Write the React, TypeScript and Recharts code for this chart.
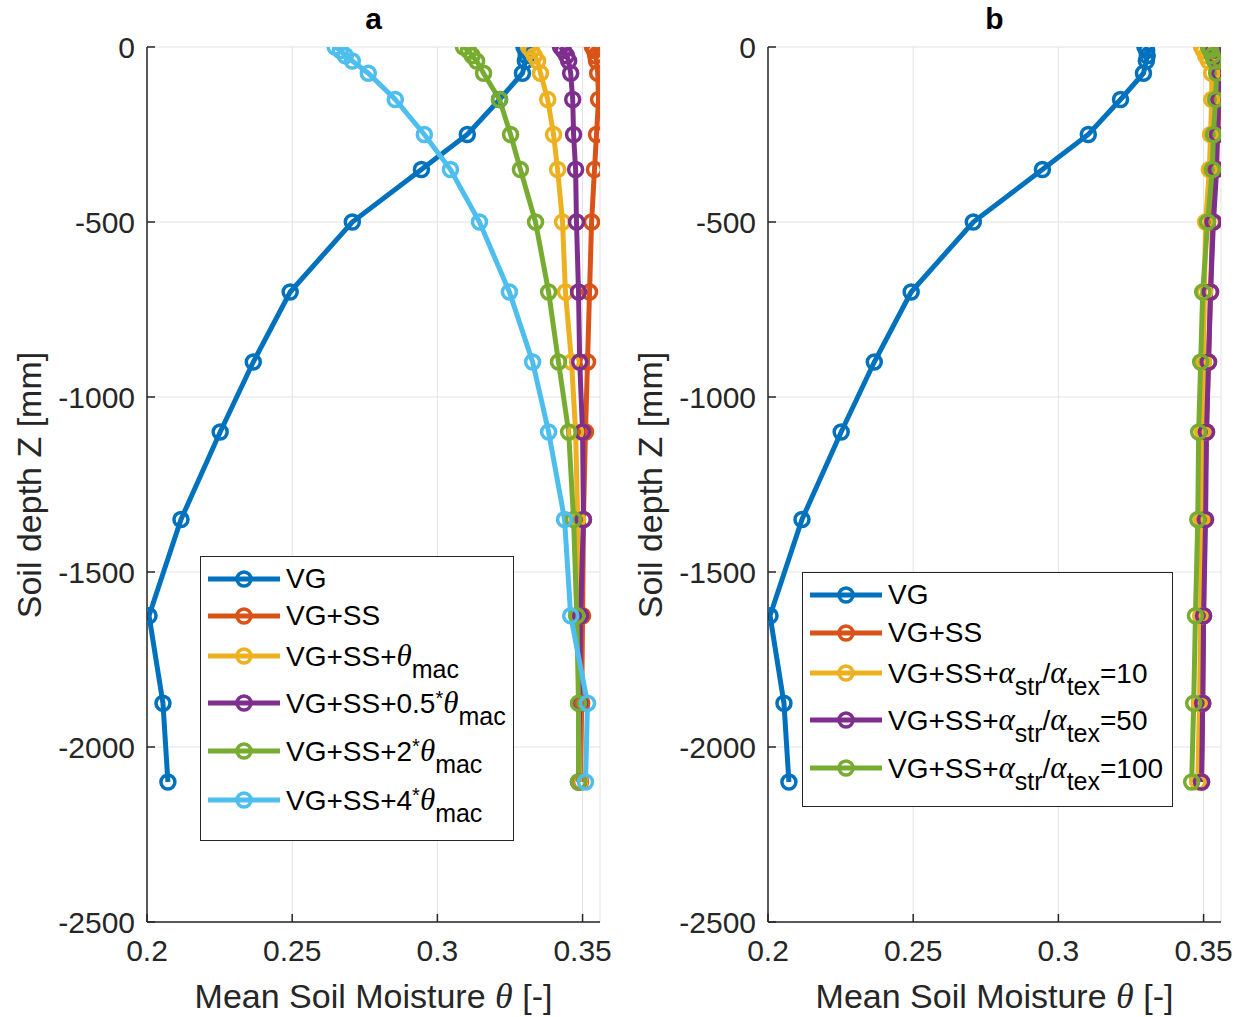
import React from "react";
import { CartesianGrid, Line, LineChart, XAxis, YAxis } from "recharts";

// soil depth of every node [mm]
const DEPTHS = [0, -10, -25, -40, -75, -150, -250, -350, -500, -700, -900, -1100, -1350, -1625, -1875, -2100];

const X_TICKS = [0.2, 0.25, 0.3, 0.35];
const Y_TICKS = [0, -500, -1000, -1500, -2000, -2500];

// mean soil moisture per node, panel a
const VG = [0.3298, 0.3304, 0.3306, 0.3303, 0.3293, 0.3214, 0.3103, 0.2945, 0.2707, 0.2493, 0.2366, 0.2252, 0.2117, 0.2007, 0.2055, 0.2072];
const VG_SS = [0.3534, 0.3541, 0.3545, 0.3548, 0.3552, 0.3555, 0.3548, 0.3541, 0.3531, 0.3524, 0.3517, 0.351, 0.3503, 0.35, 0.3497, 0.3493];
const MAC_1 = [0.3314, 0.3324, 0.3334, 0.3345, 0.3355, 0.338, 0.34, 0.3414, 0.3431, 0.3441, 0.3462, 0.3476, 0.3483, 0.3486, 0.349, 0.349];
const MAC_05 = [0.3424, 0.3434, 0.3445, 0.3452, 0.3459, 0.3466, 0.3469, 0.3476, 0.3479, 0.3486, 0.349, 0.35, 0.3503, 0.3493, 0.349, 0.3486];
const MAC_2 = [0.309, 0.3107, 0.312, 0.3135, 0.3159, 0.3214, 0.3252, 0.3286, 0.3338, 0.3383, 0.3417, 0.3452, 0.3469, 0.348, 0.3486, 0.3486];
const MAC_4 = [0.2648, 0.2666, 0.2683, 0.2707, 0.2762, 0.2855, 0.2955, 0.3045, 0.3145, 0.3248, 0.3328, 0.3383, 0.3438, 0.3459, 0.3517, 0.351];

// panel b
const ALPHA_10 = [0.3493, 0.35, 0.3507, 0.3517, 0.3528, 0.3528, 0.3524, 0.352, 0.3507, 0.3503, 0.35, 0.3497, 0.3493, 0.349, 0.3486, 0.348];
const ALPHA_50 = [0.3524, 0.353, 0.3538, 0.3545, 0.3555, 0.3552, 0.3548, 0.3545, 0.3534, 0.3524, 0.3517, 0.351, 0.3507, 0.35, 0.3497, 0.3493];
const ALPHA_100 = [0.3517, 0.3524, 0.353, 0.3538, 0.3545, 0.3541, 0.3534, 0.353, 0.3514, 0.3497, 0.349, 0.3483, 0.348, 0.3472, 0.3466, 0.3459];

const C = {
  blue: "#0072BD",
  orange: "#D95319",
  yellow: "#EDB120",
  purple: "#7E2F8E",
  green: "#77AC30",
  cyan: "#4DBEEE",
};

const INK = "#262626";
const SANS = "'Liberation Sans', Arial, sans-serif";
const SERIF = "'Liberation Serif', 'Times New Roman', serif";

const Theta = () => <i style={{ fontFamily: SERIF, fontSize: 31 }}>θ</i>;
const Alpha = () => <i style={{ fontFamily: SERIF, fontSize: 31 }}>α</i>;
const Sub = ({ children }: { children: React.ReactNode }) => (
  <span style={{ fontSize: 25, position: "relative", top: 12 }}>{children}</span>
);
const Star = () => <span style={{ fontSize: 20, position: "relative", top: -8 }}>*</span>;

interface Series {
  key: string;
  values: number[];
  color: string;
  label: React.ReactNode;
}

const SERIES_A: Series[] = [
  { key: "vg", values: VG, color: C.blue, label: "VG" },
  { key: "vgss", values: VG_SS, color: C.orange, label: "VG+SS" },
  { key: "m1", values: MAC_1, color: C.yellow, label: <>VG+SS+<Theta /><Sub>mac</Sub></> },
  { key: "m05", values: MAC_05, color: C.purple, label: <>VG+SS+0.5<Star /><Theta /><Sub>mac</Sub></> },
  { key: "m2", values: MAC_2, color: C.green, label: <>VG+SS+2<Star /><Theta /><Sub>mac</Sub></> },
  { key: "m4", values: MAC_4, color: C.cyan, label: <>VG+SS+4<Star /><Theta /><Sub>mac</Sub></> },
];

const ratio = (n: string) => (
  <>VG+SS+<Alpha /><Sub>str</Sub>/<Alpha /><Sub>tex</Sub>={n}</>
);

const SERIES_B: Series[] = [
  { key: "vg", values: VG, color: C.blue, label: "VG" },
  { key: "vgss", values: VG_SS, color: C.orange, label: "VG+SS" },
  { key: "a10", values: ALPHA_10, color: C.yellow, label: ratio("10") },
  { key: "a50", values: ALPHA_50, color: C.purple, label: ratio("50") },
  { key: "a100", values: ALPHA_100, color: C.green, label: ratio("100") },
];

const toPoints = (values: number[]) => DEPTHS.map((z, i) => ({ theta: values[i], z }));

const W = 625;
const H = 1017;

function LegendBox({ series, left, top, width, heights }: { series: Series[]; left: number; top: number; width: number; heights: number[] }) {
  return (
    <div
      style={{
        position: "absolute",
        left,
        top,
        width,
        boxSizing: "border-box",
        border: `1.5px solid ${INK}`,
        background: "#fff",
        padding: "6px 0 8px 7px",
        fontFamily: SANS,
        fontSize: 28,
        color: "#000",
      }}
    >
      {series.map((s, i) => (
        <div key={s.key} style={{ display: "flex", alignItems: "flex-start", height: heights[i], whiteSpace: "nowrap" }}>
          <svg width={74} height={32} style={{ flex: "none" }}>
            <line x1={0} x2={72} y1={16} y2={16} stroke={s.color} strokeWidth={5} />
            <circle cx={36} cy={16} r={7} fill="none" stroke={s.color} strokeWidth={3.5} />
          </svg>
          <span style={{ marginLeft: 4, lineHeight: "32px" }}>{s.label}</span>
        </div>
      ))}
    </div>
  );
}

function Panel({ title, series, left, legend }: { title: string; series: Series[]; left: number; legend: React.ReactNode }) {
  const tickStyle = { fill: INK, fontSize: 30, fontFamily: SANS };
  return (
    <div style={{ position: "absolute", left, top: 0, width: W, height: H }}>
      <LineChart width={W} height={H} margin={{ top: 47, right: 25, bottom: 0, left: 0 }}>
        <CartesianGrid stroke="#e3e3e3" strokeWidth={1} />
        <XAxis
          dataKey="theta"
          type="number"
          domain={[0.2, 0.356]}
          ticks={X_TICKS}
          allowDataOverflow
          height={95}
          tickSize={-8}
          tickMargin={26}
          axisLine={{ stroke: INK, strokeWidth: 1.5 }}
          tickLine={{ stroke: INK, strokeWidth: 1.5 }}
          tick={tickStyle}
        />
        <XAxis
          xAxisId="top"
          orientation="top"
          type="number"
          domain={[0.2, 0.356]}
          ticks={X_TICKS}
          allowDataOverflow
          height={0}
          tickSize={-8}
          tickFormatter={() => ""}
          axisLine={{ stroke: INK, strokeWidth: 1.5 }}
          tickLine={{ stroke: INK, strokeWidth: 1.5 }}
        />
        <YAxis
          dataKey="z"
          type="number"
          domain={[-2500, 0]}
          ticks={Y_TICKS}
          allowDataOverflow
          width={147}
          tickSize={-8}
          tickMargin={20}
          axisLine={{ stroke: INK, strokeWidth: 1.5 }}
          tickLine={{ stroke: INK, strokeWidth: 1.5 }}
          tick={tickStyle}
        />
        <YAxis
          yAxisId="right"
          orientation="right"
          type="number"
          domain={[-2500, 0]}
          ticks={Y_TICKS}
          allowDataOverflow
          width={0}
          tickSize={-8}
          tickFormatter={() => ""}
          axisLine={{ stroke: INK, strokeWidth: 1.5 }}
          tickLine={{ stroke: INK, strokeWidth: 1.5 }}
        />
        {series.map((s) => (
          <Line
            key={s.key}
            data={toPoints(s.values)}
            dataKey="z"
            type="linear"
            stroke={s.color}
            strokeWidth={5}
            dot={{ r: 7, fill: "none", stroke: s.color, strokeWidth: 3.5 }}
            activeDot={false}
            isAnimationActive={false}
          />
        ))}
      </LineChart>

      <div style={{ position: "absolute", left: 147, width: 453, top: 2, textAlign: "center", fontFamily: SANS, fontWeight: 700, fontSize: 30, lineHeight: "34px" }}>
        {title}
      </div>
      <div style={{ position: "absolute", left: 147, width: 453, top: 979, textAlign: "center", fontFamily: SANS, fontSize: 34, lineHeight: "34px", color: INK, whiteSpace: "nowrap" }}>
        Mean Soil Moisture <i style={{ fontFamily: SERIF, fontSize: 36 }}>θ</i> [-]
      </div>
      <div
        style={{
          position: "absolute",
          left: 29 - 200,
          top: 485 - 17,
          width: 400,
          height: 34,
          lineHeight: "34px",
          textAlign: "center",
          fontFamily: SANS,
          fontSize: 34,
          color: INK,
          transform: "rotate(-90deg)",
          whiteSpace: "nowrap",
        }}
      >
        Soil depth Z [mm]
      </div>
      {legend}
    </div>
  );
}

export default function App() {
  return (
    <div style={{ position: "absolute", left: 0, top: 0, width: 1247, height: 1017, background: "#fff", overflow: "hidden" }}>
      <Panel
        title="a"
        series={SERIES_A}
        left={0}
        legend={<LegendBox series={SERIES_A} left={200} top={556} width={314} heights={[37, 40, 47, 48, 49, 48]} />}
      />
      <Panel
        title="b"
        series={SERIES_B}
        left={621}
        legend={<LegendBox series={SERIES_B} left={181} top={572} width={371} heights={[38, 40, 47, 48, 46]} />}
      />
    </div>
  );
}
